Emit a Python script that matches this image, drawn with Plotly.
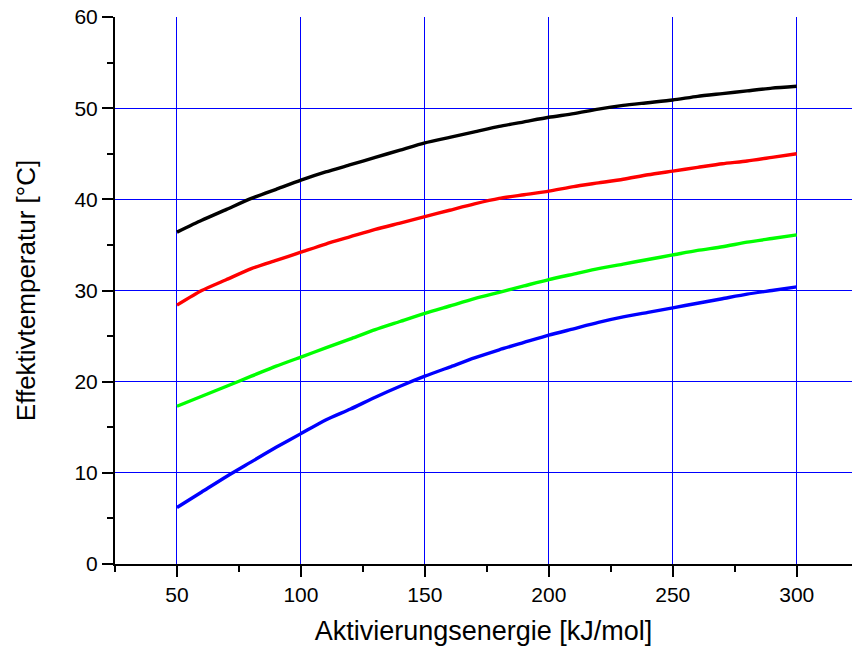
import plotly.graph_objects as go

energie = [50, 60, 70, 80, 90, 100, 110, 120, 130, 140, 150, 160, 170, 180, 190,
           200, 210, 220, 230, 240, 250, 260, 270, 280, 290, 300]

schwarz = [36.4, 37.7, 38.9, 40.1, 41.1, 42.1, 43.0, 43.8, 44.6, 45.4, 46.2, 46.8, 47.4,
           48.0, 48.5, 49.0, 49.4, 49.9, 50.3, 50.6, 50.9, 51.3, 51.6, 51.9, 52.2, 52.4]
rot = [28.4, 30.0, 31.2, 32.4, 33.3, 34.2, 35.1, 35.9, 36.7, 37.4, 38.1, 38.8, 39.5,
       40.1, 40.5, 40.9, 41.4, 41.8, 42.2, 42.7, 43.1, 43.5, 43.9, 44.2, 44.6, 45.0]
gruen = [17.3, 18.4, 19.5, 20.6, 21.7, 22.7, 23.7, 24.7, 25.7, 26.6, 27.5, 28.3, 29.1,
         29.8, 30.5, 31.2, 31.8, 32.4, 32.9, 33.4, 33.9, 34.4, 34.8, 35.3, 35.7, 36.1]
blau = [6.2, 7.9, 9.6, 11.2, 12.8, 14.3, 15.8, 17.0, 18.3, 19.5, 20.6, 21.6, 22.6,
        23.5, 24.3, 25.1, 25.8, 26.5, 27.1, 27.6, 28.1, 28.6, 29.1, 29.6, 30.0, 30.4]

x_ticks = [50, 100, 150, 200, 250, 300]
y_ticks = [0, 10, 20, 30, 40, 50, 60]

fig = go.Figure()
for ys, col in [(schwarz, "#000000"), (rot, "#ff0000"), (gruen, "#00ff00"), (blau, "#0000ff")]:
    fig.add_trace(go.Scatter(x=energie, y=ys, mode="lines",
                             line=dict(color=col, width=3.4, shape="spline", smoothing=0.6),
                             showlegend=False))

font_family = "Liberation Sans, Arial, sans-serif"

fig.update_layout(
    width=852, height=648,
    margin=dict(l=115, r=0, t=17, b=84),
    paper_bgcolor="white", plot_bgcolor="white",
    font=dict(family=font_family, color="black", size=21),
    xaxis=dict(
        range=[25, 322.3], tickvals=x_ticks, ticks="outside", ticklen=11, tickwidth=2,
        tickcolor="black", showline=True, linecolor="black", linewidth=2,
        showgrid=True, gridcolor="#0000ff", gridwidth=1, zeroline=False,
        minor=dict(dtick=25, tick0=0, ticks="outside", ticklen=6, tickwidth=2,
                   tickcolor="black", showgrid=False),
        tickfont=dict(size=21), ticklabeloverflow="allow", automargin=False,
        title=dict(text="Aktivierungsenergie [kJ/mol]", font=dict(size=27), standoff=16),
    ),
    yaxis=dict(
        range=[0, 60], tickvals=y_ticks, ticks="outside", ticklen=11, tickwidth=2,
        tickcolor="black", showline=True, linecolor="black", linewidth=2,
        showgrid=True, gridcolor="#0000ff", gridwidth=1, zeroline=False,
        minor=dict(dtick=5, tick0=0, ticks="outside", ticklen=6, tickwidth=2,
                   tickcolor="black", showgrid=False),
        tickfont=dict(size=21), ticklabeloverflow="allow", automargin=False,
        title=dict(text="Effektivtemperatur [°C]", font=dict(size=26), standoff=31),
    ),
)

fig.write_html("out.html",
               config={"displayModeBar": False},
               post_script="document.body.style.margin='0';document.body.style.overflow='hidden';")
